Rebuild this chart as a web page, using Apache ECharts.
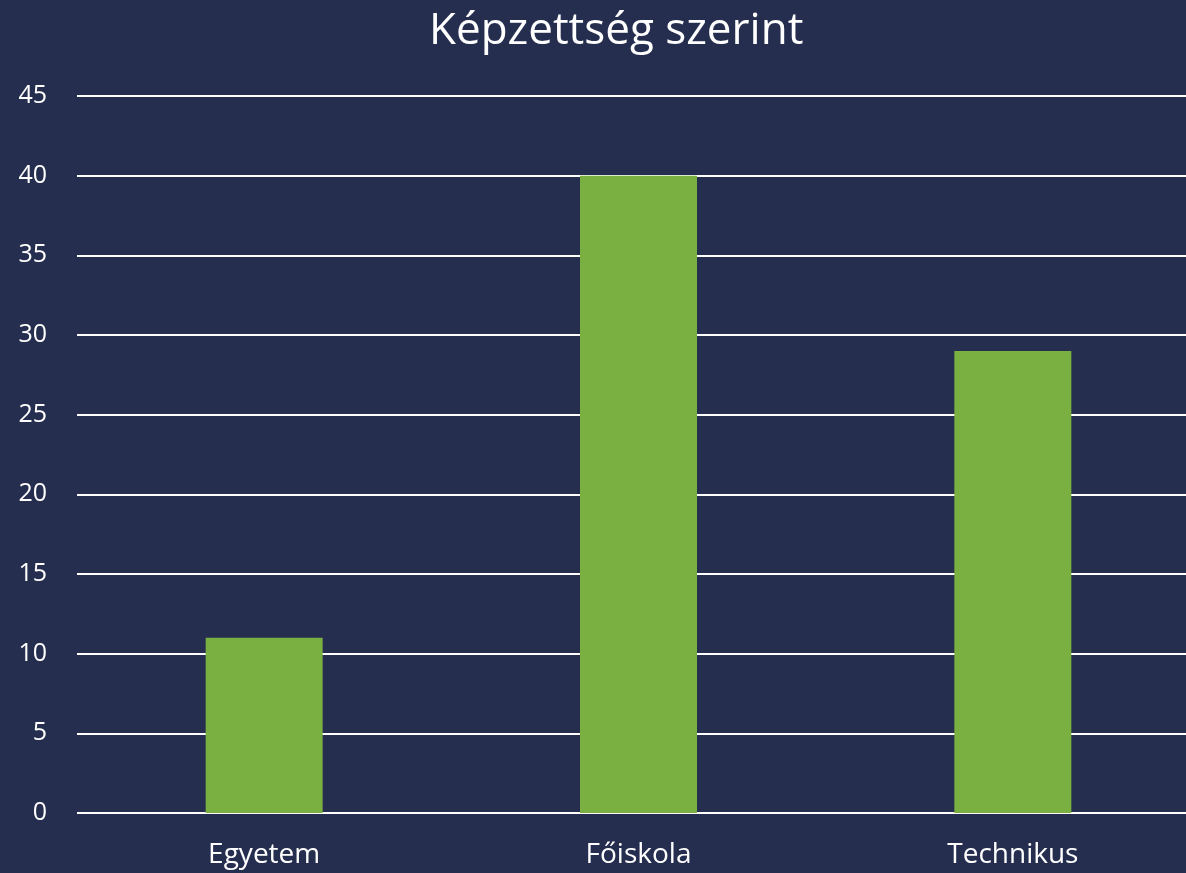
<!DOCTYPE html>
<html>
<head>
<meta charset="utf-8">
<script src="https://cdn.jsdelivr.net/npm/echarts@6/dist/echarts.min.js"></script>
<style>
  html, body { margin: 0; padding: 0; background: #252e4f; }
  #chart { width: 1186px; height: 873px; }
</style>
</head>
<body>
<div id="chart"></div>
<script>
const categories = ['Egyetem', 'Főiskola', 'Technikus'];
const values = [11, 40, 29];
const yTicks = [0, 5, 10, 15, 20, 25, 30, 35, 40, 45];

const chart = echarts.init(document.getElementById('chart'));
chart.setOption({
  backgroundColor: '#252e4f',
  animation: false,
  textStyle: { fontFamily: 'Open Sans' },
  title: {
    text: 'Képzettség szerint',
    left: 424,
    top: 4,
    textStyle: { color: '#ffffff', fontSize: 44, fontWeight: 'normal', fontFamily: 'Open Sans' }
  },
  grid: {
    left: 77,
    right: -14,
    top: 96,
    bottom: 60,
    outerBoundsMode: 'none'
  },
  xAxis: {
    type: 'category',
    data: categories,
    axisLine: { show: false },
    axisTick: { show: false },
    axisLabel: { color: '#ffffff', fontSize: 28, margin: 28 }
  },
  yAxis: {
    type: 'value',
    min: yTicks[0],
    max: yTicks[yTicks.length - 1],
    interval: 5,
    axisLine: { show: false },
    axisTick: { show: false },
    axisLabel: { color: '#ffffff', fontSize: 25, margin: 30 },
    splitLine: { lineStyle: { color: '#ffffff', width: 2 } }
  },
  series: [{
    type: 'bar',
    data: values,
    barWidth: 117,
    itemStyle: { color: '#7ab041' }
  }]
});
</script>
</body>
</html>
